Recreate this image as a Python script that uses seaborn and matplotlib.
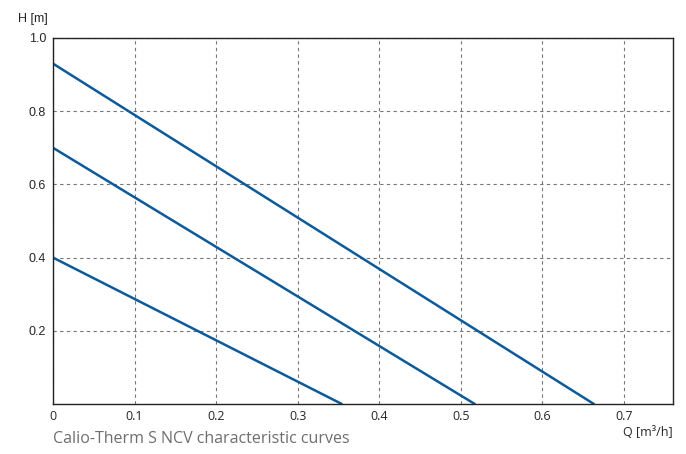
import numpy as np
import pandas as pd
import matplotlib
matplotlib.use('Agg')
import matplotlib.pyplot as plt
import seaborn as sns

# Kennlinien (Q in m³/h, H in m)
q_max = [0.0, 0.663]
h_max = [0.93, 0.0]
q_mid = [0.0, 0.517]
h_mid = [0.70, 0.0]
q_min = [0.0, 0.354]
h_min = [0.40, 0.0]

x_ticks = [0, 0.1, 0.2, 0.3, 0.4, 0.5, 0.6, 0.7]
x_labels = ['0', '0.1', '0.2', '0.3', '0.4', '0.5', '0.6', '0.7']
y_ticks = [0.2, 0.4, 0.6, 0.8, 1.0]
y_labels = ['0.2', '0.4', '0.6', '0.8', '1.0']

sns.set_style("white")
plt.rcParams['font.family'] = ['Open Sans', 'DejaVu Sans']

fig = plt.figure(figsize=(6.86, 4.54), dpi=100)
ax = fig.add_axes([53/686, 1-404/454, (673-53)/686, (404-38)/454])

line_color = '#0b5a9c'
for q, h in [(q_max, h_max), (q_mid, h_mid), (q_min, h_min)]:
    df = pd.DataFrame({'Q': q, 'H': h})
    sns.lineplot(data=df, x='Q', y='H', ax=ax, color=line_color, linewidth=1.8)

ax.set_xlim(0, 0.76)
ax.set_ylim(0, 1.0)
ax.set_xticks(x_ticks)
ax.set_xticklabels(x_labels, fontsize=9, family='Open Sans')
ax.set_yticks(y_ticks)
ax.set_yticklabels(y_labels, fontsize=9, family='Liberation Sans')
ax.tick_params(axis='x', length=0, pad=4)
ax.tick_params(axis='y', length=0, pad=5)
ax.grid(True, linestyle=(0, (3, 3)), color='#777777', linewidth=0.8)
for s in ax.spines.values():
    s.set_color('#222222')
    s.set_linewidth(1.0)
ax.set_xlabel('')
ax.set_ylabel('')

fig.text(48/686, 1-19/454, 'H [m]', fontsize=9, family='Liberation Sans',
         ha='right', va='center')
fig.text(673/686, 1-433/454, 'Q [m³/h]', fontsize=9, family='Open Sans',
         ha='right', va='center')
fig.text(53/686, 1-439/454, 'Calio-Therm S NCV characteristic curves',
         fontsize=11.5, color='#6e6e6e', ha='left', va='center')

fig.savefig('out.png', dpi=100)
